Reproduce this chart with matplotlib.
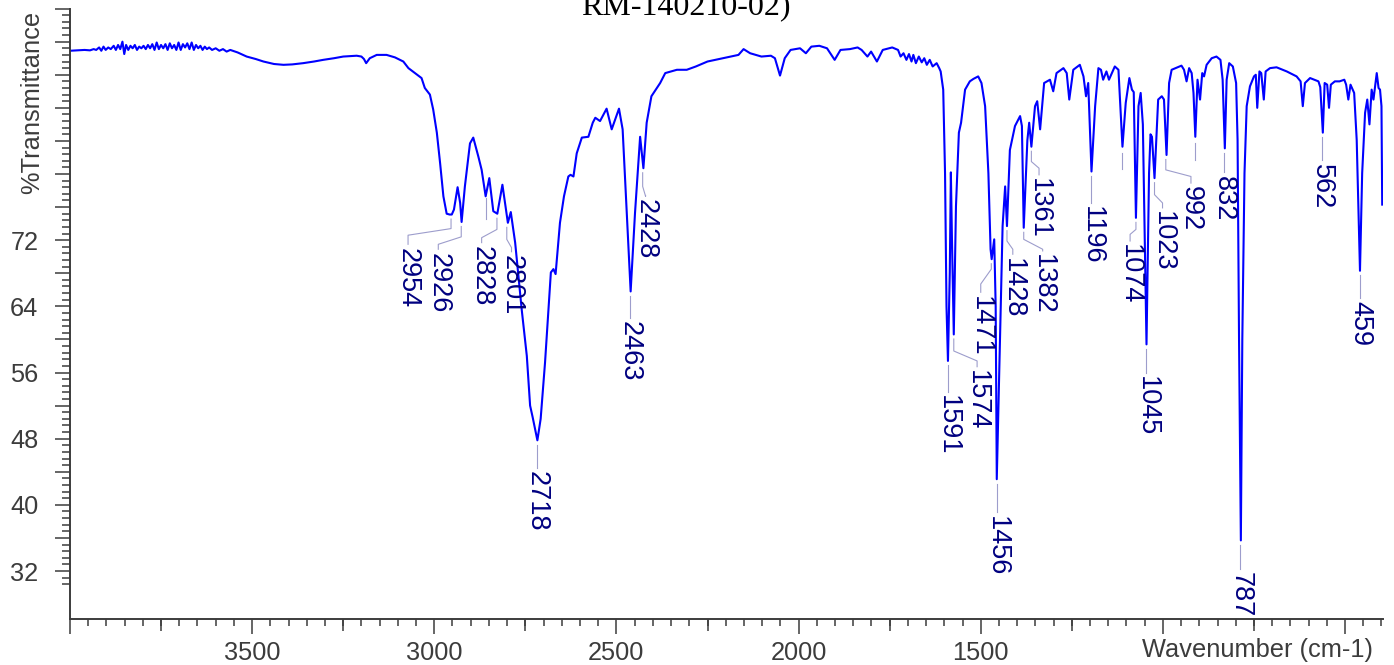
import matplotlib
matplotlib.use("Agg")
import matplotlib.pyplot as plt
from matplotlib.ticker import FixedLocator, FixedFormatter, MultipleLocator
import numpy as np

plt.rcParams["font.family"] = ["Liberation Sans", "DejaVu Sans"]

# spectrum (wavenumber in cm-1, %T)
wavenumber = [
    4000, 3980, 3960, 3945, 3935, 3928, 3920, 3914, 3908, 3902, 3895, 3888,
    3880, 3874, 3868, 3862, 3856, 3851, 3846, 3840, 3834, 3828, 3822, 3816,
    3810, 3804, 3798, 3792, 3786, 3780, 3774, 3768, 3762, 3756, 3750, 3744,
    3738, 3732, 3726, 3720, 3714, 3708, 3702, 3696, 3690, 3684, 3678, 3672,
    3666, 3660, 3654, 3648, 3642, 3636, 3630, 3624, 3618, 3610, 3600, 3590,
    3580, 3570, 3560, 3540, 3515, 3490, 3469, 3440, 3414, 3390, 3360, 3330,
    3305, 3275, 3250, 3213, 3200, 3193, 3187, 3182, 3177, 3158, 3131, 3108,
    3085, 3071, 3053, 3035, 3026, 3012, 3003, 2993, 2984, 2975, 2966, 2958,
    2952, 2946, 2936, 2929, 2925, 2916, 2902, 2893, 2879, 2870, 2859, 2849,
    2838, 2827, 2813, 2798, 2790, 2778, 2760, 2746, 2737, 2730, 2717, 2708,
    2696, 2680, 2673, 2667, 2655, 2644, 2632, 2626, 2618, 2609, 2595, 2577,
    2565, 2558, 2545, 2527, 2513, 2493, 2483, 2474, 2461, 2449, 2435, 2426,
    2417, 2404, 2380, 2366, 2334, 2307, 2282, 2250, 2186, 2165, 2151, 2133,
    2102, 2076, 2065, 2051, 2038, 2022, 1996, 1980, 1965, 1943, 1922, 1901,
    1885, 1859, 1838, 1827, 1811, 1801, 1785, 1769, 1743, 1727, 1720, 1712,
    1704, 1697, 1690, 1685, 1678, 1670, 1662, 1655, 1648, 1640, 1632, 1621,
    1614, 1610, 1603, 1598, 1594, 1590, 1585, 1582, 1579, 1574, 1568, 1560,
    1554, 1543, 1530, 1520, 1507, 1498, 1488, 1479, 1473, 1470, 1463, 1459,
    1456, 1447, 1440, 1433, 1428, 1420, 1406, 1392, 1387, 1382, 1372, 1367,
    1361, 1351, 1345, 1337, 1326, 1310, 1301, 1292, 1273, 1264, 1257, 1246,
    1228, 1218, 1211, 1205, 1196, 1186, 1177, 1170, 1164, 1155, 1148, 1132,
    1122, 1111, 1102, 1092, 1085, 1080, 1074, 1067, 1061, 1055, 1045, 1038,
    1034, 1030, 1023, 1013, 1003, 997, 990, 983, 976, 949, 942, 935,
    928, 921, 916, 911, 905, 898, 892, 887, 880, 866, 853, 842,
    836, 830, 825, 818, 808, 799, 795, 791, 786, 782, 776, 770,
    761, 750, 745, 741, 735, 730, 723, 718, 706, 688, 660, 633,
    622, 616, 610, 596, 573, 568, 561, 556, 549, 544, 539, 528,
    515, 502, 497, 491, 485, 475, 468, 459, 453, 445, 439, 433,
    427, 422, 413, 408, 404, 400, 398,
]
transmittance = [
    94.9, 94.95, 95.0, 94.95, 95.1, 95.0, 95.3, 94.9, 95.4, 95.0, 95.3, 95.1,
    95.5, 95.0, 95.6, 95.1, 96.0, 94.5, 95.6, 95.0, 95.5, 95.2, 95.6, 95.0,
    95.4, 95.2, 95.5, 95.1, 95.6, 95.2, 95.7, 95.0, 95.9, 95.1, 95.6, 95.2,
    95.7, 95.0, 95.8, 95.2, 95.6, 95.0, 95.9, 95.0, 95.7, 95.3, 95.8, 95.1,
    95.9, 95.0, 95.6, 95.2, 95.5, 95.0, 95.4, 95.1, 95.3, 95.0, 95.2, 94.9,
    95.1, 94.8, 95.0, 94.7, 94.2, 93.9, 93.6, 93.3, 93.2, 93.25, 93.4, 93.6,
    93.8, 94.0, 94.2, 94.3, 94.2, 93.9, 93.4, 93.7, 94.0, 94.4, 94.4, 94.1,
    93.6, 92.8, 92.2, 91.6, 90.4, 89.6, 87.8, 85.0, 81.3, 77.3, 75.2, 75.1,
    75.1, 75.7, 78.4, 76.5, 74.2, 78.5, 83.7, 84.4, 82.1, 80.5, 77.3, 79.5,
    75.5, 75.2, 78.7, 74.1, 75.4, 71.7, 63.6, 58.0, 52.0, 50.6, 47.8, 50.4,
    57.2, 68.1, 68.5, 67.9, 74.1, 77.3, 79.7, 79.9, 79.7, 82.5, 84.4, 84.5,
    86.2, 86.8, 86.4, 87.9, 85.4, 87.9, 85.4, 77.3, 65.8, 75.3, 84.5, 80.7,
    86.2, 89.4, 91.0, 92.2, 92.6, 92.6, 93.0, 93.6, 94.2, 94.4, 95.1, 94.6,
    94.2, 94.3, 94.0, 91.9, 94.0, 95.0, 95.2, 94.6, 95.4, 95.5, 95.2, 93.8,
    95.0, 95.1, 95.3, 95.0, 94.2, 94.8, 93.6, 95.0, 95.3, 95.0, 94.2, 94.6,
    93.8, 94.5, 93.6, 94.4, 93.4, 94.2, 93.5, 94.0, 93.2, 93.8, 93.0, 93.4,
    92.8, 92.4, 90.2, 80.1, 64.0, 57.4, 68.1, 80.2, 72.1, 60.6, 76.1, 85.0,
    86.2, 90.2, 91.2, 91.5, 91.8, 91.0, 88.2, 80.1, 70.9, 69.7, 72.1, 64.0,
    43.1, 60.0, 73.7, 78.5, 73.7, 82.9, 85.8, 87.0, 85.8, 73.5, 84.1, 86.2,
    83.3, 88.2, 88.8, 85.4, 91.0, 91.4, 90.0, 92.2, 92.8, 92.2, 89.0, 92.6,
    93.2, 91.8, 89.4, 91.0, 80.3, 88.2, 92.8, 92.6, 91.4, 92.4, 91.4, 93.0,
    92.6, 83.3, 88.6, 91.6, 90.2, 89.9, 74.7, 88.2, 89.8, 86.0, 59.4, 80.1,
    84.8, 84.5, 79.5, 89.0, 89.4, 89.0, 82.3, 91.0, 92.6, 93.1, 92.6, 91.2,
    92.8, 92.2, 89.8, 84.5, 91.4, 89.0, 92.2, 91.8, 93.2, 94.0, 94.2, 93.8,
    91.4, 83.1, 91.4, 93.4, 93.0, 91.0, 84.1, 60.0, 35.7, 60.0, 80.1, 88.2,
    90.6, 91.8, 92.0, 88.0, 92.4, 92.2, 89.0, 92.4, 92.8, 92.9, 92.4, 91.8,
    91.2, 88.2, 91.0, 91.6, 91.2, 90.5, 85.0, 91.0, 90.8, 88.0, 90.8, 91.2,
    91.2, 91.4, 90.8, 89.0, 90.8, 89.8, 84.1, 68.3, 80.1, 87.4, 89.0, 86.0,
    90.2, 89.0, 92.2, 90.4, 90.2, 88.2, 76.3,
]

# peak labels: tip position, text column / top, and optional kink of the leader
peak_labels = ["2954", "2926", "2828", "2801", "2718", "2463", "2428", "1591",
               "1574", "1471", "1456", "1428", "1382", "1361", "1196", "1074",
               "1045", "1023", "992", "832", "787", "562", "459"]
peak_wn = [2954, 2926, 2828, 2801, 2718, 2463, 2428, 1591, 1574, 1471, 1456,
           1428, 1382, 1361, 1196, 1074, 1045, 1023, 992, 832, 787, 562, 459]
peak_T = [75.1, 74.2, 75.2, 74.1, 47.8, 65.8, 80.7, 57.4, 60.6, 69.7, 43.1,
          73.7, 73.5, 83.3, 80.3, 74.7, 59.4, 79.5, 82.3, 83.1, 35.7, 85.0, 68.3]
label_wn = [3072, 2989, 2870, 2788, 2718, 2463, 2420, 1591, 1510, 1500, 1456,
            1412, 1330, 1340, 1196, 1090, 1045, 1001, 923, 832, 787, 562, 459]
label_T = [71.1, 70.5, 71.3, 70.2, 44.1, 62.2, 77.0, 53.3, 56.3, 65.3, 38.7,
           69.9, 70.3, 79.5, 76.1, 71.5, 55.6, 75.5, 78.5, 79.8, 31.9, 81.25, 64.6]
kink_hi = [73.4, 72.4, 73.3, 72.1, None, None, 78.5, None, 58.6, 68.5, None,
           71.9, 72.1, 81.5, None, 73.3, None, 77.5, 80.5, None, None, None, None]
kink_lo = [72.6, 71.5, 72.3, 71.1, None, None, 77.3, None, 57.4, 66.7, None,
           70.9, 70.9, 80.7, None, 72.7, None, 76.5, 79.7, None, None, None, None]

# leaders whose labels were dropped
orphan_wn = [2859, 1111, 911]
orphan_top = [77.1, 82.5, 83.75]
orphan_bottom = [74.5, 80.6, 81.7]

x_major = [4000, 3500, 3000, 2500, 2000, 1500, 1000, 500]
x_major_labels = ["", "3500", "3000", "2500", "2000", "1500", "", ""]
x_mid = [3750, 3250, 2750, 2250, 1750, 1250, 750]
y_major = list(np.arange(32, 100.1, 4))
y_labelled = [32, 40, 48, 56, 64, 72]

axis_gray = "#3c3c3c"
line_blue = "#0000FF"
label_navy = "#000080"
leader_col = "#9d9dcc"
FS = 18.3
FS_PEAK = 19.5

fig = plt.figure(figsize=(13.94, 6.65), dpi=100)
ax = fig.add_axes([0.0502, 0.0692, 0.9416, 0.9179])

ax.plot(wavenumber, transmittance, color=line_blue, lw=1.5)

gap = 0.55
for i, text in enumerate(peak_labels):
    x0, y0 = peak_wn[i], peak_T[i] - gap
    end = label_T[i] + 0.4
    if kink_hi[i] is None:
        xs, ys = [x0, x0], [y0, end]
    else:
        xs = [x0, x0, label_wn[i], label_wn[i]]
        ys = [y0, kink_hi[i], kink_lo[i], end]
    ax.plot(xs, ys, color=leader_col, lw=0.8)
    ax.text(label_wn[i], label_T[i], text, rotation=270, ha="center",
            va="top", color=label_navy, fontsize=FS_PEAK)

for x, y1, y2 in zip(orphan_wn, orphan_top, orphan_bottom):
    ax.plot([x, x], [y1, y2], color=leader_col, lw=0.8)

ax.set_xlim(4000, 397)
ax.set_ylim(26.2, 100)

for side in ("top", "right"):
    ax.spines[side].set_visible(False)
for side in ("left", "bottom"):
    ax.spines[side].set_color(axis_gray)
    ax.spines[side].set_linewidth(1.4)

ax.xaxis.set_major_locator(FixedLocator(x_major))
ax.xaxis.set_major_formatter(FixedFormatter(x_major_labels))
ax.xaxis.set_minor_locator(MultipleLocator(50))
ax.yaxis.set_major_locator(FixedLocator(y_major))
ax.yaxis.set_major_formatter(
    FixedFormatter([str(int(v)) if v in y_labelled else "" for v in y_major]))
ax.yaxis.set_minor_locator(FixedLocator(list(np.arange(30.4, 100.01, 0.8))))

ax.tick_params(axis="x", which="major", length=10.8, width=1.1,
               color=axis_gray, labelcolor=axis_gray, labelsize=FS, pad=5)
ax.tick_params(axis="x", which="minor", length=4.8, width=1.1, color=axis_gray)
ax.tick_params(axis="y", which="major", length=10.8, width=1.1,
               color=axis_gray, labelcolor=axis_gray, labelsize=FS, pad=12)
ax.tick_params(axis="y", which="minor", length=5.8, width=1.1, color=axis_gray)

sec = ax.secondary_xaxis("bottom")
sec.set_xticks(x_mid)
sec.tick_params(length=8.4, width=1.1, color=axis_gray, labelbottom=False)
sec.spines["bottom"].set_visible(False)

fig.text(1258 / 1394, 1 - 650 / 665, "Wavenumber (cm-1)", ha="center",
         va="center", color=axis_gray, fontsize=FS)
fig.text(32 / 1394, 1 - 11 / 665, "%Transmittance", rotation=90, ha="center",
         va="top", color=axis_gray, fontsize=FS)
# second line of the title; the first line sits above the canvas as in the source
fig.text(686 / 1394, 1 - 14.6 / 665, "RM-140210-02)", ha="center",
         va="baseline", family="Liberation Serif", fontsize=23)

fig.savefig("out.png", dpi=100)
